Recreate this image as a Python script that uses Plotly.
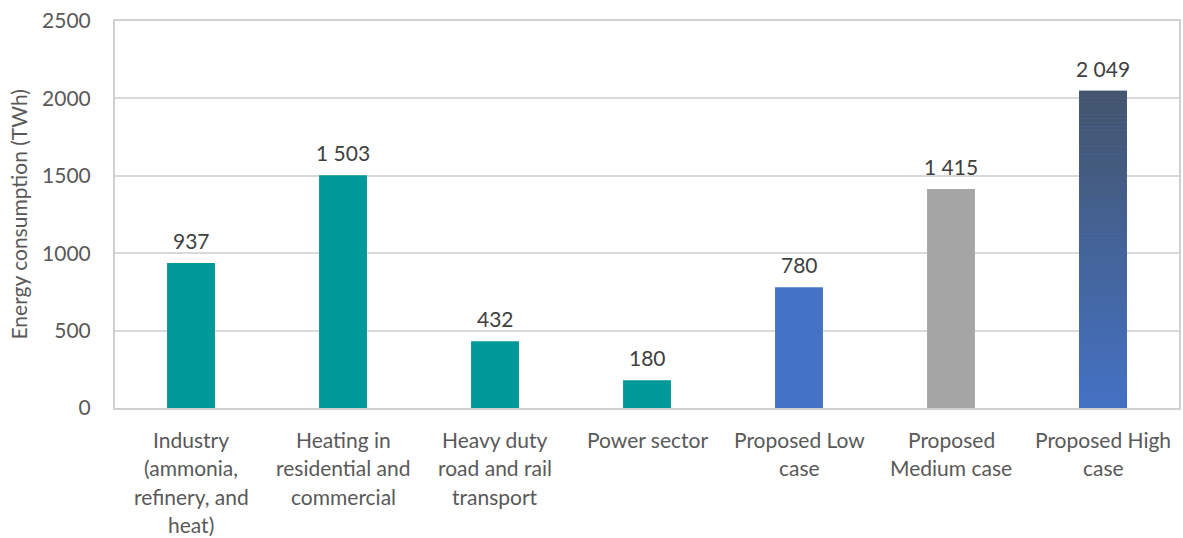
import plotly.graph_objects as go

categories = [
    "Industry\n(ammonia,\nrefinery, and\nheat)",
    "Heating in\nresidential and\ncommercial",
    "Heavy duty\nroad and rail\ntransport",
    "Power sector",
    "Proposed Low\ncase",
    "Proposed\nMedium case",
    "Proposed High\ncase",
]
values = [937, 1503, 432, 180, 780, 1415, 2049]
bar_colors = ["#009999", "#009999", "#009999", "#009999", "#4472C4", "#A5A5A5", "#4472C4"]
gradient_top = (0x44, 0x54, 0x6A)
gradient_bottom = (0x44, 0x72, 0xC4)
y_ticks = [0, 500, 1000, 1500, 2000, 2500]

FONT = "Lato"
TICK_COLOR = "#595959"
LABEL_COLOR = "#404040"
FS = 21

keys = [c.replace("\n", " ") for c in categories]

fig = go.Figure()
fig.add_trace(go.Bar(
    x=keys, y=values, marker=dict(color=bar_colors, line=dict(width=0)),
    width=0.315, hoverinfo="skip", showlegend=False,
))

# gradient overlay for the last bar
N = 80
gx, gb, gy, gc = [], [], [], []
v = values[-1]
for i in range(N):
    t = (i + 0.5) / N  # 0 bottom -> 1 top
    r = round(gradient_bottom[0] + (gradient_top[0] - gradient_bottom[0]) * t)
    g = round(gradient_bottom[1] + (gradient_top[1] - gradient_bottom[1]) * t)
    b = round(gradient_bottom[2] + (gradient_top[2] - gradient_bottom[2]) * t)
    gx.append(keys[-1])
    gb.append(v * i / N)
    gy.append(v / N * 1.02 if i < N - 1 else v / N)
    gc.append(f"rgb({r},{g},{b})")
fig.add_trace(go.Bar(
    x=gx, y=gy, base=gb, marker=dict(color=gc, line=dict(width=0)),
    width=0.315, hoverinfo="skip", showlegend=False,
))

annotations = []
for k, val in zip(keys, values):
    annotations.append(dict(
        x=k, y=val, xref="x", yref="y", text=f"{val:,}".replace(",", " "),
        showarrow=False, yanchor="bottom", yshift=8,
        font=dict(family=FONT, size=FS, color=LABEL_COLOR),
    ))
for k, cat in zip(keys, categories):
    for j, line in enumerate(cat.split("\n")):
        annotations.append(dict(
            x=k, y=0, xref="x", yref="paper", text=line, showarrow=False,
            yanchor="middle", yshift=-31 - 28.5 * j,
            font=dict(family=FONT, size=FS, color=TICK_COLOR),
        ))
annotations.append(dict(
    x=0, xref="paper", xshift=-97, xanchor="center", y=0.5, yref="paper",
    yanchor="middle",
    text="Energy consumption (TWh)", textangle=-90, showarrow=False,
    font=dict(family=FONT, size=FS, color=TICK_COLOR),
))

fig.update_layout(
    width=1183, height=538,
    margin=dict(l=115, r=2, t=21, b=130),
    paper_bgcolor="white", plot_bgcolor="white",
    barmode="overlay", bargap=0.685,
    annotations=annotations,
    font=dict(family=FONT, size=FS, color=TICK_COLOR),
)
fig.update_xaxes(
    showticklabels=False, showgrid=False, ticks="",
    showline=True, linecolor="#D0D0D0", linewidth=2, mirror=True,
    range=[-0.5, len(keys) - 0.5],
)
fig.update_yaxes(
    range=[0, 2500], tickvals=y_ticks, ticktext=[str(t) for t in y_ticks],
    showgrid=True, gridcolor="#D9D9D9", gridwidth=2,
    showline=True, linecolor="#D0D0D0", linewidth=2, mirror=True,
    zeroline=False, ticks="", ticklabelstandoff=18,
    tickfont=dict(family=FONT, size=FS, color=TICK_COLOR),
)

fig.write_html(
    "out.html",
    config={"displayModeBar": False},
    post_script="document.body.style.margin='0';document.body.style.padding='0';",
)
